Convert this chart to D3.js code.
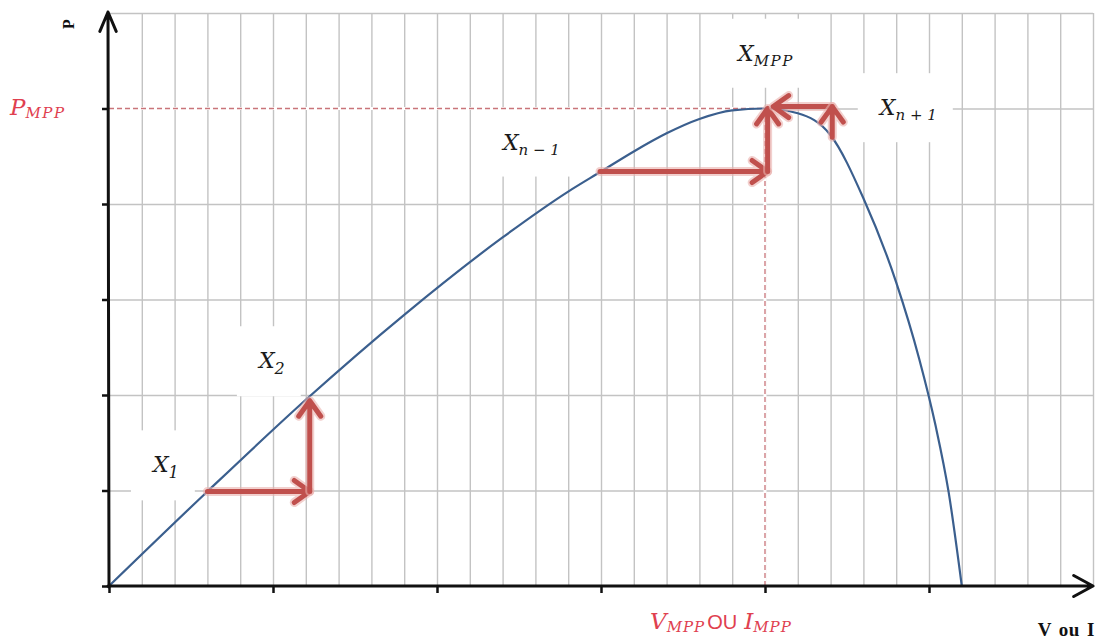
<!DOCTYPE html>
<html lang="fr">
<head>
<meta charset="UTF-8">
<script src="https://d3js.org/d3.v7.min.js"></script>
<title>MPPT - perturbation et observation</title>
<style>
  body { margin: 0; background: #fff; }
  svg { display: block; }
  .grid line { stroke: #c3c3c3; stroke-width: 1.4; }
  .math { font-family: "DejaVu Serif", "Liberation Serif", serif; font-style: italic; }
</style>
</head>
<body>
<svg id="chart" width="1098" height="641"></svg>
<script>
const width = 1098, height = 641;
const margin = {top: 13, right: 5, bottom: 55, left: 109};

// P-V curve (x in grid columns, y in grid rows)
const vValues = [0, 3, 6, 9, 12, 14, 15, 16, 17, 18, 19, 20, 21, 22, 23, 24, 24.7, 25.2, 25.6, 26];
const pValues = [0, 0.99, 1.95, 2.84, 3.65, 4.13, 4.34, 4.55, 4.74, 4.89, 4.98, 5.0,
                 4.95, 4.72, 4.06, 3.18, 2.38, 1.68, 0.98, 0];

// maximum power point
const mpp = [20, 5];

// perturbation steps (start, end)
const stepStart = [[3.0, 0.99], [6.12, 0.99], [14.97, 4.34], [20.08, 4.34], [22.05, 5.02], [22.05, 4.70]];
const stepEnd   = [[6.12, 0.99], [6.12, 1.94], [20.08, 4.34], [20.08, 5.0], [20.25, 5.02], [22.05, 5.02]];

// operating point labels: base, subscript, anchor (v, p)
const pointBase = ["X", "X", "X", "X", "X"];
const pointSub  = ["1", "2", "n \u2212 1", "MPP", "n + 1"];
const pointV    = [1.34, 4.57, 12.01, 19.18, 23.5];
const pointP    = [1.19, 2.28, 4.57, 5.5, 4.93];

const svg = d3.select("#chart");
svg.append("rect").attr("width", width).attr("height", height).attr("fill", "#fff");

const x = d3.scaleLinear().domain([0, 30]).range([margin.left, width - margin.right]);
const y = d3.scaleLinear().domain([0, 6]).range([height - margin.bottom, margin.top]);

// grid
svg.append("g").attr("class", "grid")
  .attr("transform", `translate(0,${y(0)})`)
  .call(d3.axisBottom(x).tickValues(d3.range(1, 31)).tickSize(-(y(0) - y(6))).tickFormat(""))
  .call(g => g.select(".domain").remove());
svg.append("g").attr("class", "grid")
  .attr("transform", `translate(${x(0)},0)`)
  .call(d3.axisLeft(y).tickValues(d3.range(1, 7)).tickSize(-(x(30) - x(0))).tickFormat(""))
  .call(g => g.select(".domain").remove());

// white patches behind the labels
const boxes = svg.append("g");
const labels = svg.append("g");

pointBase.forEach((b, i) => {
  const small = pointSub[i].length === 1;
  const t = labels.append("text").attr("class", "math")
    .attr("x", x(pointV[i])).attr("y", y(pointP[i]))
    .attr("fill", "#1a1a1a").attr("font-size", 22);
  t.append("tspan").text(b);
  t.append("tspan").attr("dy", small ? 6 : 5)
    .attr("font-size", small ? 16 : 15)
    .attr("letter-spacing", pointSub[i] === "MPP" ? 1.5 : 0)
    .text(pointSub[i]);
  const bb = t.node().getBBox();
  boxes.append("rect")
    .attr("x", bb.x - 20).attr("y", bb.y - 22)
    .attr("width", bb.width + 36).attr("height", bb.height + 40)
    .attr("fill", "#fff");
});

// dashed MPP guides
const guide = svg.append("g");
const guideLines = [[0, mpp[1], mpp[0], mpp[1]], [mpp[0], 0, mpp[0], mpp[1]]];
guide.selectAll("line.u").data(guideLines).join("line").attr("class", "u")
  .attr("x1", d => x(d[0])).attr("y1", d => y(d[1]))
  .attr("x2", d => x(d[2])).attr("y2", d => y(d[3]))
  .attr("stroke", "#fff").attr("stroke-width", 3);
guide.selectAll("line.d").data(guideLines).join("line").attr("class", "d")
  .attr("x1", d => x(d[0])).attr("y1", d => y(d[1]))
  .attr("x2", d => x(d[2])).attr("y2", d => y(d[3]))
  .attr("stroke", "#c9757a").attr("stroke-width", 1.3).attr("stroke-dasharray", "5,3");

// P-V curve
const line = d3.line()
  .x((d, i) => x(vValues[i]))
  .y((d, i) => y(pValues[i]))
  .curve(d3.curveMonotoneX);
svg.append("path")
  .attr("d", line(vValues))
  .attr("fill", "none").attr("stroke", "#3b5f8e").attr("stroke-width", 2.2);

function arrowPath(x1, y1, x2, y2, len, ang) {
  const a = Math.atan2(y2 - y1, x2 - x1);
  const p1 = [x2 - len * Math.cos(a - ang), y2 - len * Math.sin(a - ang)];
  const p2 = [x2 - len * Math.cos(a + ang), y2 - len * Math.sin(a + ang)];
  return `M${x1},${y1}L${x2},${y2}M${p1[0]},${p1[1]}L${x2},${y2}L${p2[0]},${p2[1]}`;
}

// red step arrows
const steps = svg.append("g").attr("fill", "none")
  .attr("stroke-linecap", "round").attr("stroke-linejoin", "round");
stepStart.forEach((s, i) => {
  const e = stepEnd[i];
  const d = arrowPath(x(s[0]), y(s[1]), x(e[0]), y(e[1]), 19, 0.62);
  steps.append("path").attr("d", d).attr("stroke", "#eab0ae").attr("stroke-width", 9).attr("opacity", 0.6);
  steps.append("path").attr("d", d).attr("stroke", "#c0504d").attr("stroke-width", 5);
});

// axes
const axisColor = "#111";
svg.append("g").attr("transform", `translate(${x(0)},0)`)
  .call(d3.axisLeft(y).tickValues([0, 1, 2, 3, 4, 5]).tickSize(7).tickFormat("").tickSizeOuter(0))
  .call(g => g.select(".domain").remove())
  .call(g => g.selectAll(".tick line").attr("stroke", axisColor).attr("stroke-width", 2.5));
svg.append("g").attr("transform", `translate(0,${y(0)})`)
  .call(d3.axisBottom(x).tickValues([0, 5, 10, 15, 20, 25]).tickSize(7).tickFormat("").tickSizeOuter(0))
  .call(g => g.select(".domain").remove())
  .call(g => g.selectAll(".tick line").attr("stroke", axisColor).attr("stroke-width", 2.5));

const axes = svg.append("g").attr("fill", "none").attr("stroke", axisColor)
  .attr("stroke-width", 3).attr("stroke-linecap", "round").attr("stroke-linejoin", "round");
axes.append("path").attr("d", arrowPath(x(0), y(0) + 1, x(0) - 1, 12, 21, 0.4));
axes.append("path").attr("d", arrowPath(x(0) - 1, y(0), x(30), y(0), 22, 0.5));

// axis titles
svg.append("text")
  .attr("transform", "translate(74,24) rotate(-90)")
  .attr("font-family", "Liberation Serif, serif").attr("font-weight", "bold")
  .attr("font-size", 16).attr("text-anchor", "middle").attr("fill", "#111")
  .text("P");

const pm = svg.append("text").attr("class", "math")
  .attr("x", 10).attr("y", y(mpp[1]) + 6).attr("fill", "#e0404f").attr("font-size", 23);
pm.append("tspan").text("P");
pm.append("tspan").attr("dy", 3).attr("font-size", 15).attr("letter-spacing", 1.5).text("MPP");

const vm = svg.append("text")
  .attr("x", x(mpp[0]) - 115).attr("y", 629).attr("fill", "#e0404f").attr("font-size", 23);
vm.append("tspan").attr("class", "math").text("V");
vm.append("tspan").attr("class", "math").attr("dy", 3).attr("font-size", 15)
  .attr("letter-spacing", 1).text("MPP");
vm.append("tspan").attr("dy", -3).attr("dx", 2).attr("font-size", 20)
  .attr("font-family", "Liberation Sans, sans-serif").text("OU");
vm.append("tspan").attr("class", "math").attr("dx", 7).text("I");
vm.append("tspan").attr("class", "math").attr("dy", 3).attr("font-size", 15)
  .attr("letter-spacing", 1).text("MPP");

svg.append("text")
  .attr("x", 1095).attr("y", 636).attr("text-anchor", "end")
  .attr("font-family", "Liberation Serif, serif").attr("font-weight", "bold")
  .attr("font-size", 19).attr("letter-spacing", 0.5).attr("word-spacing", 2).attr("fill", "#111")
  .text("V ou I");
</script>
</body>
</html>
